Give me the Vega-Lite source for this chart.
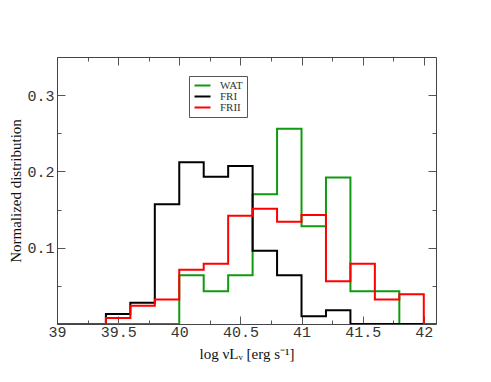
{
  "$schema": "https://vega.github.io/schema/vega-lite/v6.json",
  "width": 379,
  "height": 267,
  "autosize": {"type": "none"},
  "padding": {"left": 57, "top": 57, "right": 55, "bottom": 58},
  "background": "white",
  "config": {
    "view": {"stroke": null},
    "axis": {
      "grid": false,
      "labelFlush": false,
      "domainColor": "#444",
      "domainWidth": 1,
      "tickColor": "#555",
      "tickWidth": 1,
      "labelFont": "Liberation Mono",
      "labelFontSize": 15,
      "labelColor": "#333",
      "titleFont": "Liberation Serif",
      "titleFontSize": 15,
      "titleFontWeight": "normal",
      "titleColor": "#111"
    }
  },
  "data": {
    "values": [
      {"x": 39.0, "y": 0, "s": "WAT"}, {"x": 39.2, "y": 0, "s": "WAT"}, {"x": 39.4, "y": 0, "s": "WAT"},
      {"x": 39.6, "y": 0, "s": "WAT"}, {"x": 39.8, "y": 0, "s": "WAT"}, {"x": 40.0, "y": 0.064, "s": "WAT"},
      {"x": 40.2, "y": 0.043, "s": "WAT"}, {"x": 40.4, "y": 0.064, "s": "WAT"}, {"x": 40.6, "y": 0.170, "s": "WAT"},
      {"x": 40.8, "y": 0.256, "s": "WAT"}, {"x": 41.0, "y": 0.128, "s": "WAT"}, {"x": 41.2, "y": 0.192, "s": "WAT"},
      {"x": 41.4, "y": 0.043, "s": "WAT"}, {"x": 41.6, "y": 0.043, "s": "WAT"}, {"x": 41.8, "y": 0, "s": "WAT"},
      {"x": 42.0, "y": 0, "s": "WAT"},
      {"x": 39.0, "y": 0, "s": "FRI"}, {"x": 39.2, "y": 0, "s": "FRI"}, {"x": 39.4, "y": 0.013, "s": "FRI"},
      {"x": 39.6, "y": 0.028, "s": "FRI"}, {"x": 39.8, "y": 0.157, "s": "FRI"}, {"x": 40.0, "y": 0.212, "s": "FRI"},
      {"x": 40.2, "y": 0.193, "s": "FRI"}, {"x": 40.4, "y": 0.207, "s": "FRI"}, {"x": 40.6, "y": 0.096, "s": "FRI"},
      {"x": 40.8, "y": 0.064, "s": "FRI"}, {"x": 41.0, "y": 0.010, "s": "FRI"}, {"x": 41.2, "y": 0.018, "s": "FRI"},
      {"x": 41.4, "y": 0, "s": "FRI"}, {"x": 41.6, "y": 0, "s": "FRI"}, {"x": 41.8, "y": 0, "s": "FRI"},
      {"x": 42.0, "y": 0, "s": "FRI"},
      {"x": 39.0, "y": 0, "s": "FRII"}, {"x": 39.2, "y": 0, "s": "FRII"}, {"x": 39.4, "y": 0.008, "s": "FRII"},
      {"x": 39.6, "y": 0.024, "s": "FRII"}, {"x": 39.8, "y": 0.032, "s": "FRII"}, {"x": 40.0, "y": 0.071, "s": "FRII"},
      {"x": 40.2, "y": 0.079, "s": "FRII"}, {"x": 40.4, "y": 0.142, "s": "FRII"}, {"x": 40.6, "y": 0.151, "s": "FRII"},
      {"x": 40.8, "y": 0.134, "s": "FRII"}, {"x": 41.0, "y": 0.143, "s": "FRII"}, {"x": 41.2, "y": 0.056, "s": "FRII"},
      {"x": 41.4, "y": 0.079, "s": "FRII"}, {"x": 41.6, "y": 0.032, "s": "FRII"}, {"x": 41.8, "y": 0.039, "s": "FRII"},
      {"x": 42.0, "y": 0, "s": "FRII"}, {"x": 42.2, "y": 0, "s": "FRII"}
    ]
  },
  "layer": [
    {
      "mark": {"type": "line", "opacity": 0},
      "encoding": {
        "x": {
          "field": "x", "type": "quantitative",
          "scale": {"domain": [39, 42.1], "nice": false, "zero": false},
          "axis": {
            "orient": "top", "title": null, "labels": false,
            "values": [39, 39.25, 39.5, 39.75, 40, 40.25, 40.5, 40.75, 41, 41.25, 41.5, 41.75, 42],
            "tickSize": {"condition": {"test": "abs(datum.value*2 - round(datum.value*2)) < 0.001", "value": -8}, "value": -4}
          }
        },
        "y": {
          "field": "y", "type": "quantitative",
          "scale": {"domain": [0, 0.35], "nice": false},
          "axis": {
            "orient": "right", "title": null, "labels": false,
            "values": [0.05, 0.1, 0.15, 0.2, 0.25, 0.3],
            "tickSize": {"condition": {"test": "abs(datum.value*10 - round(datum.value*10)) < 0.001", "value": -8}, "value": -4}
          }
        }
      }
    },
    {
      "mark": {"type": "line", "interpolate": "step-after", "strokeWidth": 2, "clip": true},
      "encoding": {
        "x": {
          "field": "x", "type": "quantitative",
          "axis": {
            "orient": "bottom",
            "title": "log νLᵥ [erg s⁻¹]",
            "titlePadding": 7,
            "values": [39, 39.25, 39.5, 39.75, 40, 40.25, 40.5, 40.75, 41, 41.25, 41.5, 41.75, 42],
            "labelExpr": "abs(datum.value*2 - round(datum.value*2)) < 0.001 ? format(datum.value, '~g') : ''",
            "labelPadding": 8,
            "tickSize": {"condition": {"test": "abs(datum.value*2 - round(datum.value*2)) < 0.001", "value": -8}, "value": -4}
          }
        },
        "y": {
          "field": "y", "type": "quantitative",
          "axis": {
            "orient": "left",
            "title": "Normalized distribution",
            "titlePadding": 3,
            "values": [0.05, 0.1, 0.15, 0.2, 0.25, 0.3],
            "format": ".1f",
            "labelExpr": "abs(datum.value*10 - round(datum.value*10)) < 0.001 ? datum.label : ''",
            "labelPadding": 11,
            "tickSize": {"condition": {"test": "abs(datum.value*10 - round(datum.value*10)) < 0.001", "value": -8}, "value": -4}
          }
        },
        "color": {
          "field": "s", "type": "nominal",
          "scale": {"domain": ["WAT", "FRI", "FRII"], "range": ["#109a10", "#000000", "#ff0000"]},
          "legend": {
            "title": null,
            "orient": "none",
            "legendX": 132,
            "legendY": 19,
            "strokeColor": "#555",
            "fillColor": "white",
            "padding": 4,
            "symbolType": "M-1,0H3",
            "symbolSize": 64,
            "symbolStrokeWidth": 2,
            "labelFont": "Liberation Serif",
            "labelFontSize": 11,
            "labelColor": "#333",
            "labelOffset": 16,
            "rowPadding": -5
          }
        }
      }
    }
  ],
  "resolve": {"axis": {"x": "independent", "y": "independent"}}
}
